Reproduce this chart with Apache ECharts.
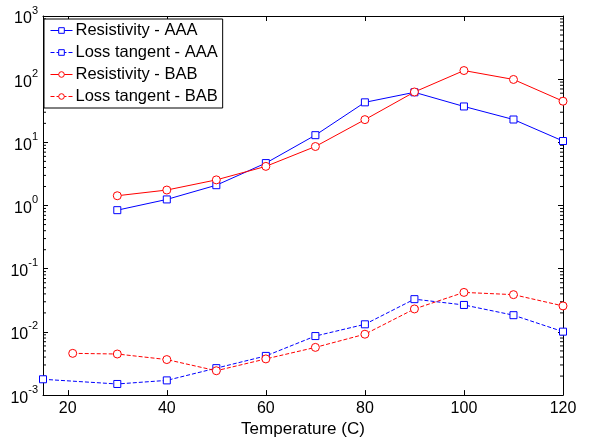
<!doctype html>
<html lang="en">
<head>
<meta charset="UTF-8">
<title>Resistivity and loss tangent</title>
<script src="https://cdn.jsdelivr.net/npm/echarts@6/dist/echarts.min.js"></script>
<style>
  html, body { margin: 0; padding: 0; background: #fff; }
  #chart { width: 590px; height: 443px; }
</style>
</head>
<body>
<div id="chart"></div>
<script>
// data
var tempAAA = [30, 40, 50, 60, 70, 80, 90, 100, 110, 120];
var resAAA = [0.845, 1.25, 2.1, 4.7, 13, 43, 62, 37, 23, 10.5];
var tempBAB = [30, 40, 50, 60, 70, 80, 90, 100, 110, 120];
var resBAB = [1.43, 1.76, 2.55, 4.17, 8.6, 22.9, 62.7, 137, 99, 44.8];
var tempLossAAA = [15, 30, 40, 50, 60, 70, 80, 90, 100, 110, 120];
var lossAAA = [0.00178, 0.0015, 0.00171, 0.00267, 0.00417, 0.0086, 0.0132, 0.033, 0.0267, 0.0184, 0.0101];
var tempLossBAB = [21, 30, 40, 50, 60, 70, 80, 90, 100, 110, 120];
var lossBAB = [0.00458, 0.00447, 0.00365, 0.00243, 0.00374, 0.00569, 0.0092, 0.0231, 0.0422, 0.0389, 0.0258];
var xTicks = [20, 40, 60, 80, 100, 120];

function pairs(xs, ys) {
  return xs.map(function (x, i) { return [x, ys[i]]; });
}

var font = 'Liberation Sans, Arial, sans-serif';
var myChart = echarts.init(document.getElementById('chart'));

function mkLine(name, xs, ys, color, dashed, symbol, size) {
  return {
    name: name,
    type: 'line',
    data: pairs(xs, ys),
    symbol: symbol,
    symbolSize: size,
    showAllSymbol: true,
    animation: false,
    itemStyle: { color: '#fff', borderColor: color, borderWidth: 1 },
    lineStyle: { color: color, width: 1, type: dashed ? [4, 2] : 'solid' }
  };
}

// log minor ticks on left and right edges (2..9 per decade)
var minorTicks = {
  type: 'custom',
  silent: true,
  animation: false,
  data: [[0]],
  clip: false,
  renderItem: function (params, api) {
    var kids = [];
    for (var e = -3; e < 3; e++) {
      for (var m = 2; m <= 9; m++) {
        var v = m * Math.pow(10, e);
        var pl = api.coord([15, v]);
        var pr = api.coord([120, v]);
        kids.push({ type: 'line', shape: { x1: pl[0], y1: pl[1], x2: pl[0] + 3, y2: pl[1] }, style: { stroke: '#000', lineWidth: 1 } });
        kids.push({ type: 'line', shape: { x1: pr[0], y1: pr[1], x2: pr[0] - 3, y2: pr[1] }, style: { stroke: '#000', lineWidth: 1 } });
      }
    }
    return { type: 'group', children: kids };
  }
};

var option = {
  backgroundColor: '#fff',
  animation: false,
  grid: { left: 43, right: 27, top: 16, bottom: 43, containLabel: false },
  legend: {
    orient: 'vertical',
    left: 44,
    top: 19,
    itemWidth: 22,
    itemHeight: 7,
    itemGap: 5,
    padding: [3, 5, 3, 6],
    borderColor: '#000',
    borderWidth: 1,
    backgroundColor: '#fff',
    lineStyle: { width: 1 },
    itemStyle: { borderWidth: 1 },
    textStyle: { fontFamily: font, fontSize: 16.5, color: '#000', padding: [0, 0, 0, -2] },
    data: ['Resistivity - AAA', 'Loss tangent - AAA', 'Resistivity - BAB', 'Loss tangent - BAB']
  },
  xAxis: [{
    type: 'value',
    min: 15,
    max: 120,
    name: 'Temperature (C)',
    nameLocation: 'middle',
    nameGap: 19,
    nameTextStyle: { fontFamily: font, fontSize: 17, color: '#000' },
    axisLine: { onZero: false, lineStyle: { color: '#000', width: 1 } },
    axisTick: { inside: true, length: 5, customValues: xTicks, lineStyle: { color: '#000' } },
    axisLabel: { customValues: xTicks, fontFamily: font, fontSize: 16, color: '#000', margin: 5 },
    splitLine: { show: false }
  }, {
    type: 'value',
    position: 'top',
    min: 15,
    max: 120,
    axisLine: { onZero: false, lineStyle: { color: '#000', width: 1 } },
    axisTick: { inside: true, length: 5, customValues: xTicks, lineStyle: { color: '#000' } },
    axisLabel: { show: false },
    splitLine: { show: false }
  }],
  yAxis: [{
    type: 'log',
    logBase: 10,
    min: 0.001,
    max: 1000,
    interval: 1,
    axisLine: { onZero: false, lineStyle: { color: '#000', width: 1 } },
    axisTick: { inside: true, length: 5, lineStyle: { color: '#000' } },
    axisLabel: {
      margin: 5,
      fontFamily: font,
      color: '#000',
      formatter: function (v) {
        var e = Math.round(Math.log10(v));
        return '{b|10}{s|' + e + '}';
      },
      rich: {
        b: { fontFamily: font, fontSize: 16, color: '#000', verticalAlign: 'bottom', lineHeight: 22 },
        s: { fontFamily: font, fontSize: 11, color: '#000', verticalAlign: 'top', lineHeight: 22 }
      }
    },
    splitLine: { show: false }
  }, {
    type: 'log',
    logBase: 10,
    position: 'right',
    min: 0.001,
    max: 1000,
    interval: 1,
    axisLine: { onZero: false, lineStyle: { color: '#000', width: 1 } },
    axisTick: { inside: true, length: 5, lineStyle: { color: '#000' } },
    axisLabel: { show: false },
    splitLine: { show: false }
  }],
  series: [
    mkLine('Resistivity - AAA', tempAAA, resAAA, '#0000ff', false, 'rect', 7),
    mkLine('Loss tangent - AAA', tempLossAAA, lossAAA, '#0000ff', true, 'rect', 7),
    mkLine('Resistivity - BAB', tempBAB, resBAB, '#ff0000', false, 'circle', 8),
    mkLine('Loss tangent - BAB', tempLossBAB, lossBAB, '#ff0000', true, 'circle', 8),
    minorTicks
  ]
};

myChart.setOption(option);
</script>
</body>
</html>
